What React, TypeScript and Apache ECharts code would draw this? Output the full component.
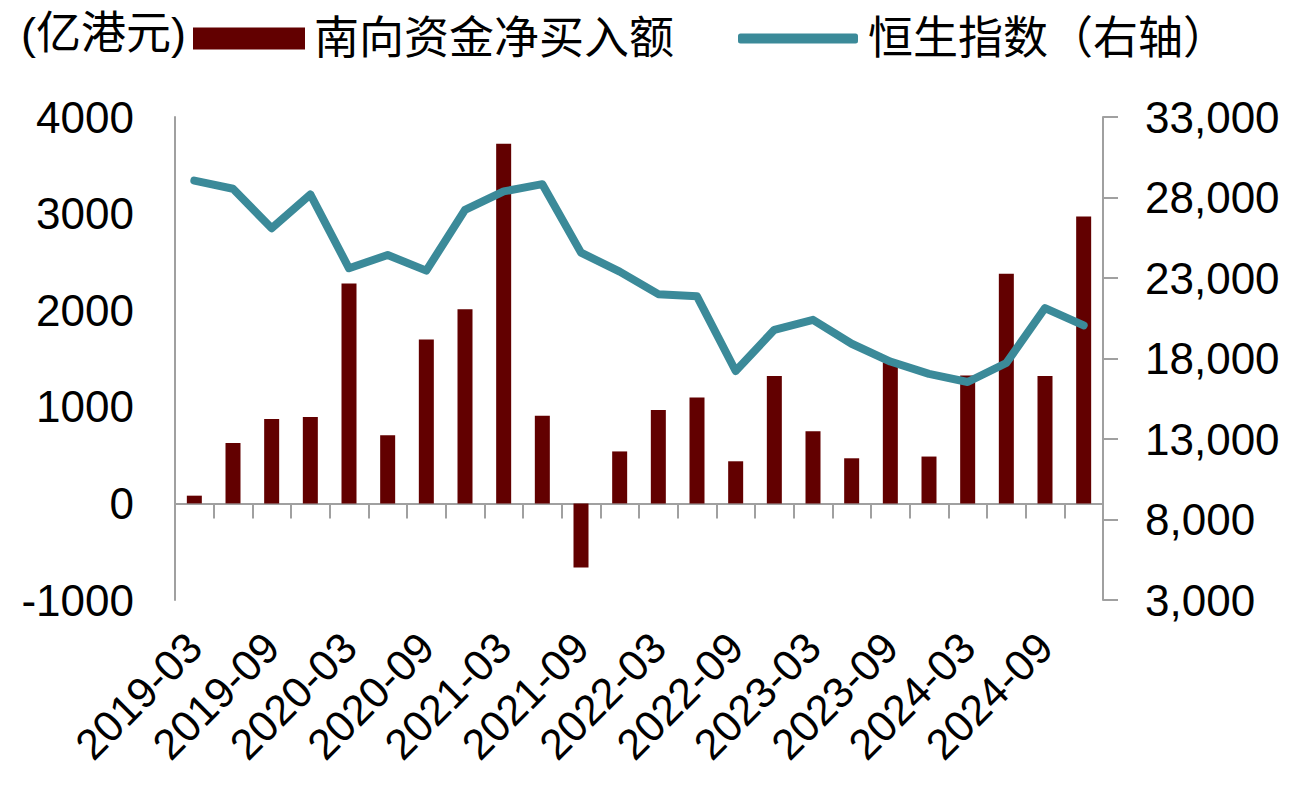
import React, { useEffect, useRef } from "react";
import * as echarts from "echarts";

const categories = [
  "2019-03", "2019-06", "2019-09", "2019-12",
  "2020-03", "2020-06", "2020-09", "2020-12",
  "2021-03", "2021-06", "2021-09", "2021-12",
  "2022-03", "2022-06", "2022-09", "2022-12",
  "2023-03", "2023-06", "2023-09", "2023-12",
  "2024-03", "2024-06", "2024-09", "2024-12",
];

// 南向资金净买入额 (亿港元)
const southboundNetBuy = [
  80, 625, 873, 894,
  2276, 705, 1696, 2010,
  3724, 907, -663, 538,
  966, 1095, 436, 1320,
  746, 467, 1460, 485,
  1325, 2378, 1320, 2971,
];

// 恒生指数 (右轴)
const hangSengIndex = [
  29051, 28543, 26092, 28190,
  23603, 24427, 23459, 27231,
  28378, 28828, 24576, 23398,
  21997, 21860, 17223, 19781,
  20400, 18916, 17810, 17047,
  16541, 17719, 21134, 20060,
];

const leftTicks = { min: -1000, max: 4000, interval: 1000 };
const rightTicks = { min: 3000, max: 33000, interval: 5000 };

const seriesNames = ["南向资金净买入额", "恒生指数（右轴）"];
const unitLabel = "(亿港元)";

const FONT = "Arial, 'Liberation Sans', 'Noto Sans CJK SC', sans-serif";
const BAR_COLOR = "#620000";
const LINE_COLOR = "#3b8a99";
const AXIS_COLOR = "#a0a0a0";

export default function App() {
  const ref = useRef<HTMLDivElement>(null);

  useEffect(() => {
    if (!ref.current) return;
    const chart = echarts.init(ref.current, undefined, { renderer: "svg" });
    const legendText = { fontSize: 45, color: "#000", fontFamily: FONT };
    chart.setOption({
      animation: false,
      backgroundColor: "#ffffff",
      textStyle: { fontFamily: FONT, color: "#000" },
      grid: { left: 175, right: 196, top: 117, bottom: 195, containLabel: false },
      graphic: [
        {
          type: "text",
          x: 21,
          y: 33,
          style: {
            text: unitLabel,
            fontSize: 45,
            fontFamily: FONT,
            fill: "#000",
            verticalAlign: "middle",
          },
        },
      ],
      legend: [
        {
          left: 193,
          top: 16,
          padding: 0,
          itemWidth: 112,
          itemHeight: 22,
          textStyle: { ...legendText, padding: [0, 0, 0, 4] },
          data: [{ name: seriesNames[0], icon: "rect" }],
        },
        {
          left: 738,
          top: 16,
          padding: 0,
          itemWidth: 120,
          itemHeight: 10,
          textStyle: { ...legendText, padding: [0, 0, 0, 5] },
          data: [{ name: seriesNames[1], icon: "roundRect", itemStyle: { color: LINE_COLOR } }],
        },
      ],
      xAxis: [
        {
          type: "category",
          data: categories,
          boundaryGap: true,
          axisLine: { onZero: true, lineStyle: { color: AXIS_COLOR, width: 2 } },
          axisTick: { show: true, interval: 0, length: 15, lineStyle: { color: AXIS_COLOR, width: 2 } },
          axisLabel: { show: false },
          splitLine: { show: false },
        },
        {
          type: "category",
          data: categories,
          position: "bottom",
          boundaryGap: true,
          axisLine: { show: false, onZero: false },
          axisTick: { show: false },
          axisLabel: {
            interval: 1,
            rotate: 45,
            margin: 40,
            fontSize: 43,
            color: "#000",
            fontFamily: FONT,
          },
          splitLine: { show: false },
        },
      ],
      yAxis: [
        {
          type: "value",
          min: leftTicks.min,
          max: leftTicks.max,
          interval: leftTicks.interval,
          axisLine: { show: true, lineStyle: { color: AXIS_COLOR, width: 2 } },
          axisTick: { show: false },
          splitLine: { show: false },
          axisLabel: {
            fontSize: 44,
            color: "#000",
            margin: 41,
            fontFamily: FONT,
            formatter: (v: number) => String(v),
          },
        },
        {
          type: "value",
          position: "right",
          min: rightTicks.min,
          max: rightTicks.max,
          interval: rightTicks.interval,
          axisLine: { show: true, lineStyle: { color: AXIS_COLOR, width: 2 } },
          axisTick: { show: true, length: 15, lineStyle: { color: AXIS_COLOR, width: 2 } },
          splitLine: { show: false },
          axisLabel: {
            fontSize: 44,
            color: "#000",
            margin: 42,
            fontFamily: FONT,
            formatter: (v: number) => v.toLocaleString("en-US"),
          },
        },
      ],
      series: [
        {
          name: seriesNames[0],
          type: "bar",
          xAxisIndex: 0,
          yAxisIndex: 0,
          data: southboundNetBuy,
          barWidth: 15,
          itemStyle: { color: BAR_COLOR },
        },
        {
          name: seriesNames[1],
          type: "line",
          xAxisIndex: 0,
          yAxisIndex: 1,
          data: hangSengIndex,
          symbol: "none",
          lineStyle: { color: LINE_COLOR, width: 8, join: "round", cap: "round" },
          itemStyle: { color: LINE_COLOR },
        },
      ],
    });
    return () => chart.dispose();
  }, []);

  return (
    <div
      ref={ref}
      style={{ position: "fixed", left: 0, top: 0, width: 1299, height: 795, background: "#fff" }}
    />
  );
}
